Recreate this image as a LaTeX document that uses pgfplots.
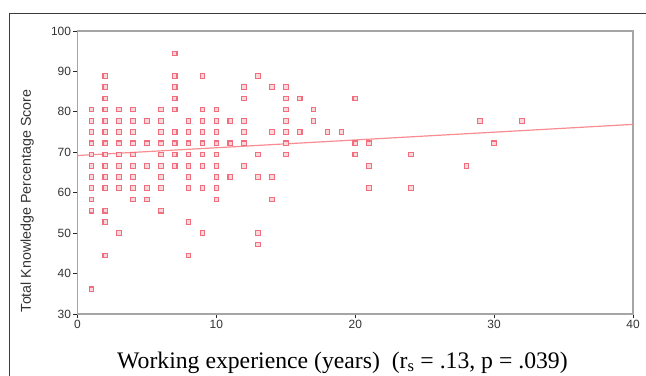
\documentclass[border=0pt]{standalone}
\usepackage{fontspec}
\setmainfont{Liberation Serif}
\setsansfont{Liberation Sans}
\usepackage{pgfplots}
\usepackage{pgfplotstable}
\pgfplotsset{compat=1.18}
\definecolor{markred}{RGB}{240,110,125}
\definecolor{markfill}{RGB}{252,215,218}
\definecolor{fitline}{RGB}{248,140,145}
\definecolor{axgray}{RGB}{165,165,165}
\definecolor{framec}{RGB}{60,60,60}

\pgfplotstableread{
x y
1 80.56
1 77.78
1 75.00
1 72.22
1 69.44
1 66.67
1 63.89
1 61.11
1 58.33
1 55.56
1 36.11
2 88.89
2 86.11
2 83.33
2 80.56
2 77.78
2 75.00
2 72.22
2 69.44
2 66.67
2 63.89
2 61.11
2 55.56
2 52.78
2 44.44
3 80.56
3 77.78
3 75.00
3 72.22
3 69.44
3 66.67
3 63.89
3 61.11
3 50.00
4 80.56
4 77.78
4 75.00
4 72.22
4 69.44
4 66.67
4 63.89
4 61.11
4 58.33
5 77.78
5 72.22
5 66.67
5 61.11
5 58.33
6 80.56
6 77.78
6 75.00
6 72.22
6 69.44
6 66.67
6 63.89
6 61.11
6 55.56
7 94.44
7 88.89
7 86.11
7 83.33
7 80.56
7 75.00
7 72.22
7 69.44
7 66.67
8 77.78
8 75.00
8 72.22
8 69.44
8 66.67
8 63.89
8 61.11
8 52.78
8 44.44
9 88.89
9 80.56
9 77.78
9 75.00
9 72.22
9 69.44
9 66.67
9 61.11
9 50.00
10 80.56
10 77.78
10 75.00
10 72.22
10 69.44
10 66.67
10 63.89
10 61.11
10 58.33
11 77.78
11 72.22
11 63.89
12 86.11
12 83.33
12 77.78
12 75.00
12 72.22
12 66.67
13 88.89
13 69.44
13 63.89
13 50.00
13 47.22
14 86.11
14 75.00
14 63.89
14 58.33
15 86.11
15 83.33
15 80.56
15 77.78
15 75.00
15 72.22
15 69.44
16 83.33
16 75.00
17 80.56
17 77.78
18 75.00
19 75.00
20 83.33
20 72.22
20 69.44
21 72.22
21 66.67
21 61.11
24 69.44
24 61.11
28 66.67
29 77.78
30 72.22
32 77.78
}\scores

\begin{document}
\begin{tikzpicture}
\useasboundingbox (0bp,0bp) rectangle (646bp,376bp);
\draw[framec, line width=1bp] (9bp,-10bp) -- (9bp,362.5bp) -- (660bp,362.5bp);
\begin{axis}[
  at={(77.5bp,62bp)}, anchor=south west,
  width=555.5bp, height=283bp, scale only axis,
  xmin=0, xmax=40, ymin=30, ymax=100,
  xtick={0,10,20,30,40}, ytick={30,40,50,60,70,80,90,100},
  xtick pos=bottom, ytick pos=left,
  tick align=outside,
  major tick length=4bp,
  axis line style={axgray, line width=1.4bp},
  tick style={black!85, line width=1bp},
  /pgf/number format/assume math mode=true,
  tick label style={font=\sffamily\fontsize{12}{12}\selectfont, text=black!80},
  xticklabel style={yshift=1bp},
  yticklabel style={xshift=1bp},
  xlabel={Working experience (years)\ \ (r\textsubscript{s} = .13, p = .039)},
  xlabel style={font=\fontsize{23.8}{24}\selectfont, at={(axis description cs:0.477,0)}, anchor=base, yshift=-54bp},
  ylabel={Total Knowledge Percentage Score},
  ylabel style={font=\sffamily\fontsize{14.3}{14.3}\selectfont, text=black!80, at={(axis description cs:-0.0905,0.40)}, anchor=center},
  clip=false,
]
\addplot[fitline, line width=1.2bp] coordinates {(0,69.2) (40,76.9)};
\addplot[only marks, mark=square*, mark size=2.3bp,
  mark options={draw=markred, fill=markfill, line width=1.1bp}] table[x=x,y=y] {\scores};
\end{axis}
\end{tikzpicture}
\end{document}
